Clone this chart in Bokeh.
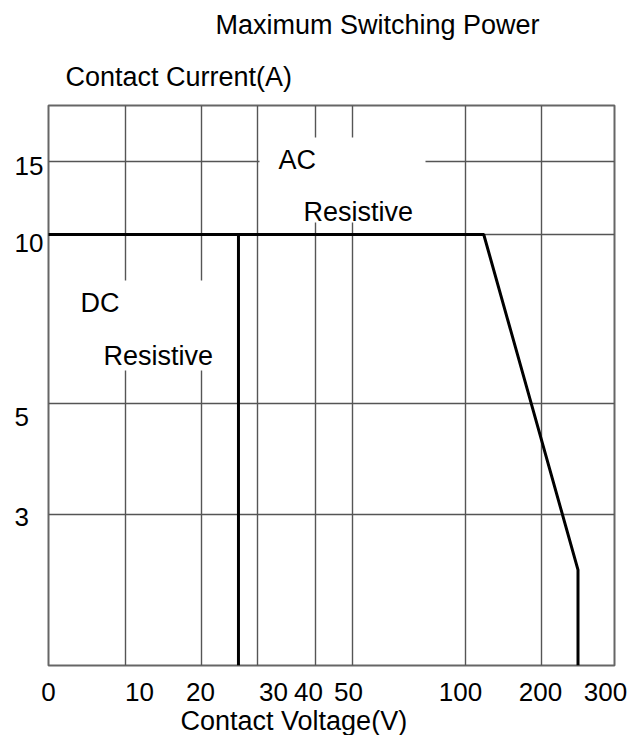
import numpy as np
from bokeh.plotting import figure
from bokeh.models import Range1d, FixedTicker, Label, BoxAnnotation, Title
from bokeh.embed import file_html
from bokeh.resources import INLINE

# ---- data ----
x_tick_values = [0, 10, 20, 30, 40, 50, 100, 200, 300]
x_tick_labels = ["0", "10", "20", "30", "40", "50", "100", "200", "300"]
y_tick_values = [3, 5, 10, 15]
y_tick_labels = ["3", "5", "10", "15"]

dc_voltage = [0, 26.6, 26.6]
dc_current = [10, 10, 0]
ac_voltage = [0, 124, 250, 250]
ac_current = [10, 10, 1.9, 0]

# ---- chart scale (non-uniform printed grid) ----
x_scale_values = x_tick_values
x_scale_pos = [0, 77, 153, 209, 267, 304, 417, 493, 566]
y_scale_values = [0, 3, 5, 10, 15]
y_scale_pos = [0, 151, 262, 431, 504]
x_label_nudge = [0, 14, -1, 16, -7, -4, -5, -1, -9]
y_label_nudge = [-2, -13, -8, -4]
y_label_pad = ["\u2007", "\u2007", "", ""]

FONT = "Liberation Sans"


def fx(v):
    return np.interp(v, x_scale_values, x_scale_pos)


def fy(c):
    return np.interp(c, y_scale_values, y_scale_pos)


p = figure(frame_width=566, frame_height=560,
           x_range=Range1d(0, 566), y_range=Range1d(0, 560),
           output_backend="svg", toolbar_location=None,
           min_border_left=48, min_border_right=24,
           min_border_top=105, min_border_bottom=0)
p.background_fill_color = "white"
p.border_fill_color = "white"
p.outline_line_color = "#666666"
p.outline_line_width = 2

# titles above (first = outer)
p.title.text = "Maximum Switching Power"
p.title.align = "left"
p.title.offset = 167
p.title.text_font = FONT
p.title.text_font_size = "27px"
p.title.text_font_style = "normal"
p.title.text_color = "black"
p.title.standoff = 14
sub_title = Title(text="Contact  Current(A)", align="left", offset=17,
                  text_font=FONT, text_font_size="27px", text_font_style="normal",
                  text_color="black", standoff=27)
p.add_layout(sub_title, "above")

# grid
p.xgrid.ticker = FixedTicker(ticks=[float(v) for v in fx(x_tick_values)])
p.ygrid.ticker = FixedTicker(ticks=[float(v) for v in fy(y_tick_values)])
for g in (p.xgrid, p.ygrid):
    g.grid_line_color = "#555555"
    g.grid_line_width = 1.4
    g.grid_line_alpha = 1.0

# x axis
x_label_pos = [int(round(float(fx(v)))) + n for v, n in zip(x_tick_values, x_label_nudge)]
xa = p.xaxis[0]
xa.ticker = FixedTicker(ticks=x_label_pos)
xa.major_label_overrides = {pos: lab for pos, lab in zip(x_label_pos, x_tick_labels)}
xa.axis_line_color = None
xa.major_tick_line_color = None
xa.minor_tick_line_color = None
xa.major_tick_out = 0
xa.major_tick_in = 0
xa.major_label_standoff = 17
xa.major_label_text_font = FONT
xa.major_label_text_font_size = "26px"
xa.major_label_text_color = "black"

# y axis
y_label_pos = [int(round(float(fy(v)))) + n for v, n in zip(y_tick_values, y_label_nudge)]
ya = p.yaxis[0]
ya.ticker = FixedTicker(ticks=y_label_pos)
ya.major_label_overrides = {pos: lab + pad for pos, lab, pad in zip(y_label_pos, y_tick_labels, y_label_pad)}
ya.axis_line_color = None
ya.major_tick_line_color = None
ya.minor_tick_line_color = None
ya.major_tick_out = 0
ya.major_tick_in = 0
ya.major_label_standoff = 5
ya.major_label_text_font = FONT
ya.major_label_text_font_size = "26px"
ya.major_label_text_color = "black"

# x axis title
p.add_layout(Title(text="Contact Voltage(V)", align="left", offset=132,
                   text_font=FONT, text_font_size="27px", text_font_style="normal",
                   text_color="black", standoff=0), "below")

# white label backgrounds
p.add_layout(BoxAnnotation(left=211, right=377, bottom=443, top=528,
                           fill_color="white", fill_alpha=1, line_color=None))
p.add_layout(BoxAnnotation(left=12, right=180, bottom=295, top=385,
                           fill_color="white", fill_alpha=1, line_color=None))

# curves
p.line(fx(dc_voltage), fy(dc_current), line_color="black", line_width=3)
p.line(fx(ac_voltage), fy(ac_current), line_color="black", line_width=3)


def add_text(x, y, t):
    p.add_layout(Label(x=x, y=y, text=t, text_align="left", text_baseline="middle",
                       text_font=FONT, text_font_size="27px", text_color="black"))


add_text(230, 506, "AC")
add_text(255, 454, "Resistive")
add_text(32, 363, "DC")
add_text(55, 310, "Resistive")

open("out.html", "w").write(file_html(p, INLINE))
